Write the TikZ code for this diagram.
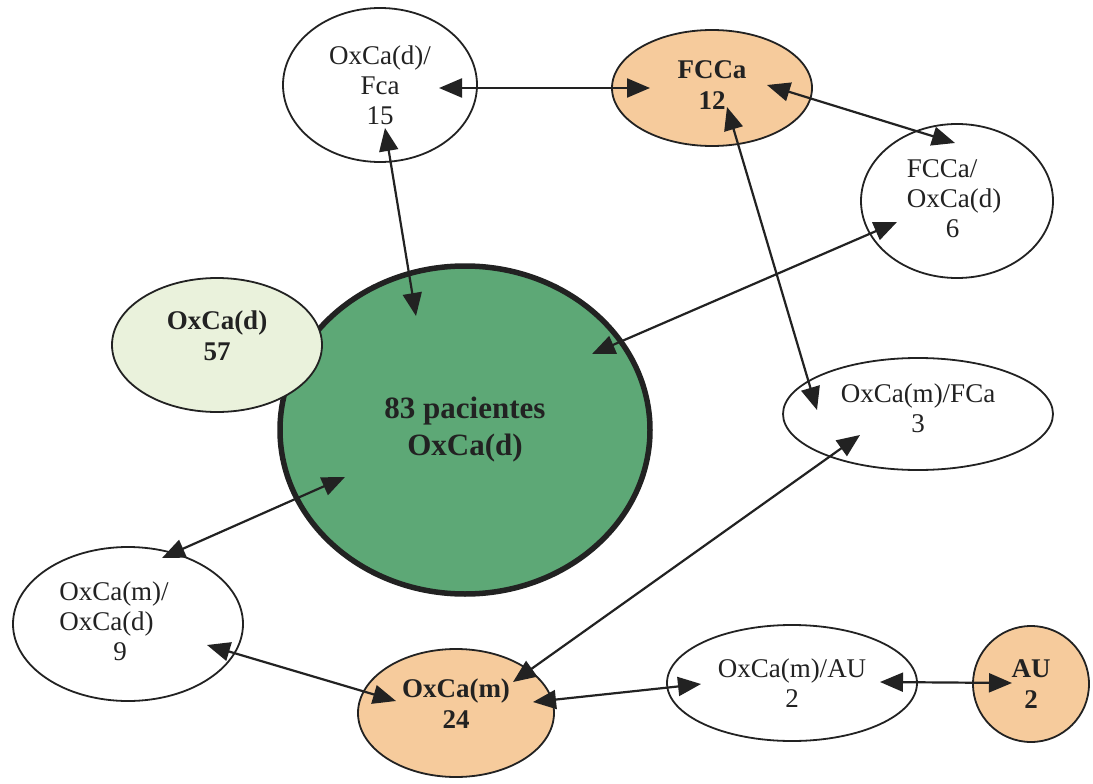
\documentclass[tikz,border=0pt]{standalone}
\usepackage{fontspec}
\setmainfont{Liberation Serif}
\usetikzlibrary{shapes.geometric,arrows.meta,calc}
\definecolor{ink}{HTML}{222222}
\definecolor{peach}{HTML}{F6CB9C}
\definecolor{pale}{HTML}{EAF2DC}
\definecolor{leaf}{HTML}{5DA876}
\begin{document}
\begin{tikzpicture}[x=1pt,y=-1pt,
  oval/.style={ellipse,draw=ink,line width=1.8pt,inner sep=0pt,align=center,text=ink,
    font=\fontsize{27}{30}\selectfont},
  boldoval/.style={oval,font=\fontsize{27}{31}\selectfont\bfseries},
  words/.style={inner sep=0pt,align=center,text=ink,font=\fontsize{27}{30}\selectfont},
  boldwords/.style={words,font=\fontsize{27}{31}\selectfont\bfseries},
  link/.style={ink,line width=2.2pt,{Triangle[length=23pt,width=19pt]}-{Triangle[length=23pt,width=19pt]}}]
\useasboundingbox (0,0) rectangle (1093,784);
\fill[white] (0,0) rectangle (1093,784);

% central group
\node[ellipse,draw=ink,line width=5.5pt,fill=leaf,minimum width=370pt,minimum height=328pt,
  inner sep=0pt,align=center,text=ink,font=\fontsize{31}{37}\selectfont\bfseries]
  (all) at (465,430) {83 pacientes\\OxCa(d)};
\node[oval,fill=pale,minimum width=210pt,minimum height=134pt,
  label={[boldwords,yshift=9pt]center:{OxCa(d)\\57}}] (d57) at (217,345) {};

% surrounding groups
\node[oval,minimum width=194pt,minimum height=154pt] (dfca) at (380,85) {OxCa(d)/\\Fca\\15};
\node[oval,fill=peach,minimum width=200pt,minimum height=116pt,
  label={[boldwords,yshift=3pt]center:{FCCa\\12}}] (fcca) at (712,88) {};
\node[oval,minimum width=192pt,minimum height=154pt] (fccad) at (957,201)
  {\begin{tabular}{@{}l@{}}FCCa/\\OxCa(d)\\\hspace*{39pt}6\end{tabular}\hspace*{6pt}};
\node[oval,minimum width=270pt,minimum height=112pt,
  label={[words,yshift=6pt]center:{OxCa(m)/FCa\\3}}] (mfca) at (918,414) {};
\node[oval,minimum width=230pt,minimum height=154pt] (md) at (128,624)
  {\begin{tabular}{@{}l@{}}OxCa(m)/\\OxCa(d)\\\hspace*{54pt}9\end{tabular}\hspace*{28pt}};
\node[oval,fill=peach,minimum width=196pt,minimum height=128pt,
  label={[boldwords,yshift=9pt]center:{OxCa(m)\\24}}] (m24) at (456,713) {};
\node[oval,minimum width=250pt,minimum height=116pt] (mau) at (792,683) {OxCa(m)/AU\\2};
\node[boldoval,fill=peach,minimum width=116pt,minimum height=116pt] (au) at (1031,684) {AU\\2};

% links between groups
\draw[link] ($(dfca)+(59,3)$) -- ($(fcca)+(-62,0)$);
\draw[link] ($(fcca)+(55,-3)$) -- ($(fccad)+(-2,-58)$);
\draw[link] ($(dfca)+(5,43)$) -- ($(all)+(-49,-114)$);
\draw[link] ($(fcca)+(15,19)$) -- ($(mfca)+(-101,-4)$);
\draw[link] ($(all)+(127,-76)$) -- ($(fccad)+(-60,21)$);
\draw[link] ($(all)+(-120,47)$) -- ($(md)+(34,-66)$);
\draw[link] ($(md)+(79,21)$) -- ($(m24)+(-60,-12)$);
\draw[link] ($(m24)+(57,-31)$) -- ($(mfca)+(-58,21)$);
\draw[link] ($(m24)+(77,-11)$) -- ($(mau)+(-91,1)$);
\draw[link] ($(mau)+(88,-1)$) -- ($(au)+(-19,-1)$);
\end{tikzpicture}
\end{document}
